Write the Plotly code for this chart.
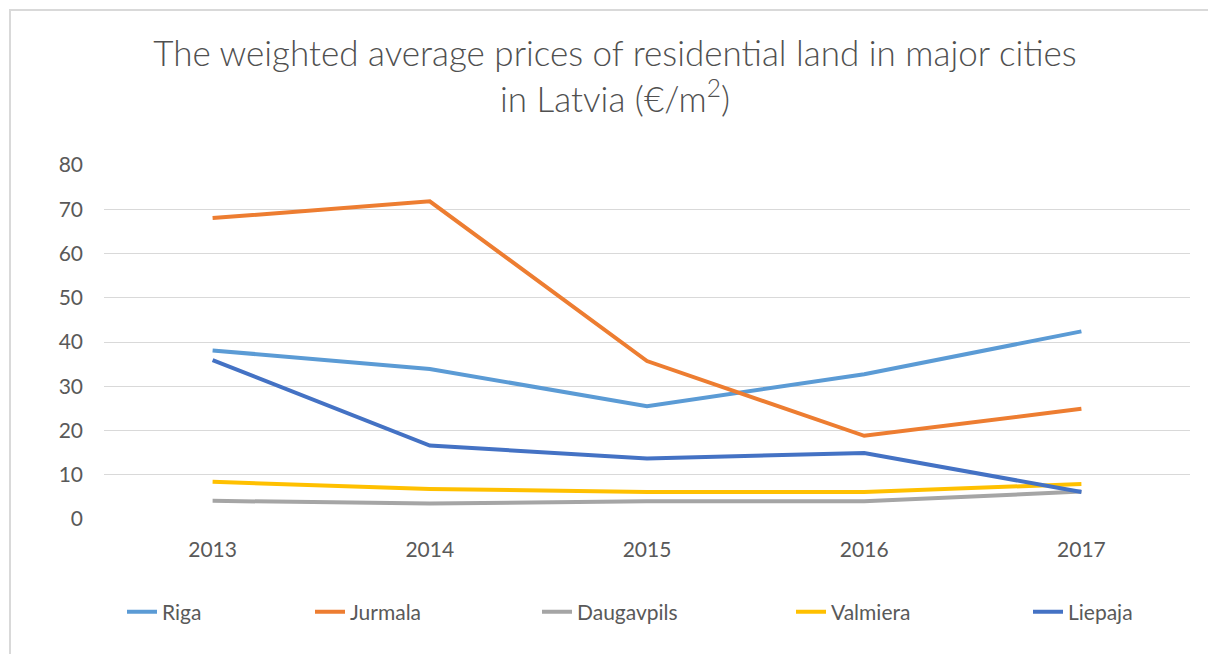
import plotly.graph_objects as go

years = ["2013", "2014", "2015", "2016", "2017"]
riga = [38.1, 33.9, 25.5, 32.7, 42.4]
jurmala = [68.0, 71.8, 35.7, 18.8, 24.9]
daugavpils = [4.1, 3.5, 4.0, 4.0, 6.2]
valmiera = [8.4, 6.8, 6.1, 6.1, 7.9]
liepaja = [35.9, 16.6, 13.7, 14.9, 6.1]

series_names = ["Riga", "Jurmala", "Daugavpils", "Valmiera", "Liepaja"]
series_values = [riga, jurmala, daugavpils, valmiera, liepaja]
series_colors = ["#5B9BD5", "#ED7D31", "#A5A5A5", "#FFC000", "#4472C4"]
legend_ids = ["legend", "legend2", "legend3", "legend4", "legend5"]
legend_text_px = [162, 350, 577, 831, 1068]

OFF = 0  # body margin removed by post_script below
W, H = 1208 - OFF, 654 - OFF
PL, PR, PT, PB = 104, 1190, 165, 519   # plot area in page pixels
ML, MT = PL - OFF, PT - OFF
MR = W - (PR - OFF)
MB = H - (PB - OFF)
PW = PR - PL
PH = PB - PT

FONT = "Lato"
GREY = "#595959"

fig = go.Figure()
for name, vals, col, lid in zip(series_names, series_values, series_colors, legend_ids):
    fig.add_trace(go.Scatter(
        x=years, y=vals, name=name, mode="lines",
        line=dict(color=col, width=4),
        legend=lid,
    ))

legend_cfg = {}
for lid, tx in zip(legend_ids, legend_text_px):
    legend_cfg[lid] = dict(
        x=(tx - 40 - PL) / PW, xanchor="left",
        y=(PB - 612) / PH, yanchor="middle",
        orientation="h", bgcolor="rgba(0,0,0,0)",
        font=dict(family=FONT, size=21, color=GREY),
        borderwidth=0,
    )

fig.update_layout(
    width=W, height=H,
    margin=dict(l=ML, r=MR, t=MT, b=MB, pad=0),
    paper_bgcolor="white", plot_bgcolor="white",
    title=dict(
        text="The weighted average prices of residential land in major cities<br>in Latvia (€/m<sup>2</sup>)",
        x=(615 - OFF) / W, xanchor="center", xref="container",
        y=1 - (58 + 8 - OFF) / H, yanchor="top", yref="container",
        font=dict(family=FONT, size=35, color="#505050", weight=300),
    ),
    xaxis=dict(
        type="category", range=[-0.5, 4.5],
        showgrid=False, zeroline=False, showline=False,
        ticks="", ticklabelstandoff=16,
        tickfont=dict(family=FONT, size=21, color=GREY),
    ),
    yaxis=dict(
        range=[0, 80], dtick=10, tick0=0,
        showgrid=True, gridcolor="#D9D9D9", gridwidth=1,
        zeroline=False, showline=False,
        ticks="", ticklabelstandoff=20,
        tickfont=dict(family=FONT, size=21, color=GREY),
    ),
    showlegend=True,
    **legend_cfg,
)

# chart frame border (top and left edges visible, the rest runs off the page)
fig.add_shape(
    type="rect", xref="paper", yref="paper",
    x0=(10 - PL) / PW, x1=(1400 - PL) / PW,
    y0=(PB - 800) / PH, y1=(PB - 10) / PH,
    line=dict(color="#D9D9D9", width=2), fillcolor="rgba(0,0,0,0)",
    layer="below",
)

fig.write_html(
    "out.html",
    config={"displayModeBar": False},
    post_script="document.body.style.margin='0';document.body.style.overflow='hidden';",
)
